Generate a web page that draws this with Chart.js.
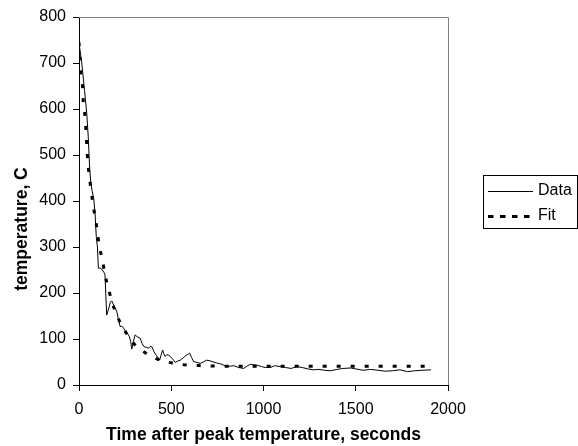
<!DOCTYPE html>
<html>
<head>
<meta charset="utf-8">
<script src="https://cdn.jsdelivr.net/npm/chart.js@4"></script>
<style>
  html, body { margin: 0; padding: 0; background: #fff; }
  #wrap { width: 578px; height: 446px; }
</style>
</head>
<body>
<div id="wrap"><canvas id="c" width="578" height="446"></canvas></div>
<script>
// ---- data ----
const dataTime = [0,15,30,42,50,58,64,72,80,87,94,100,105,115,123,135,141,150,160,170,177,190,205,215,223,232,241,250,259,266,273,280,286,295,304,315,331,342,353,365,377,386,395,407,418,428,437,445,453,460,467,476,485,495,504,513,522,535,549,562,576,588,600,610,621,640,658,675,690,705,721,745,766,785,803,820,839,865,893,910,929,948,966,990,1010,1038,1060,1090,1120,1150,1180,1210,1240,1270,1300,1330,1364,1400,1430,1473,1500,1540,1580,1620,1660,1700,1740,1781,1820,1860,1908];
const dataTemp = [744,700,640,591,540,470,440,420,405,373,320,300,254,254,252,245,239,152,165,180,183,172,160,140,127,128,124,118,113,110,105,95,78,95,109,105,102,90,83,82,80,84,83,72,65,60,54,65,76,68,62,66,65,62,58,54,49,52,54,58,63,66,69,60,51,49,47,50,54,53,51,48,46,43,40,41,42,38,36,41,45,44,43,40,38,38,42,40,38,36,40,38,35,33,34,32,31,34,36,37,35,32,34,32,30,31,33,29,31,32,33];
const fitTime = [0,5,11,20,23,33,38,42,47,54,64,74,100,109,127,141,159,177,208,241,299,364,440,518,594,670,800,1000,1200,1400,1600,1800,1908];
const fitTemp = [745,707,674,645,616,583,551,522,489,460,428,398,333,304,272,239,211,183,149,123,89,69,54,47,43,42,41,41,41,41,41,41,41];
const seriesNames = ['Data', 'Fit'];
const xMin = 0, xMax = 2000, xStep = 500;
const yMin = 0, yMax = 800, yStep = 100;
const xTitle = 'Time after peak temperature, seconds';
const yTitle = 'temperature, C';

const toPts = (xs, ys) => xs.map((x, i) => ({ x: x, y: ys[i] }));

const FONT = '"Liberation Sans", Arial, sans-serif';

const plotBorder = {
  id: 'plotBorder',
  beforeDatasetsDraw(chart) {
    const a = chart.chartArea, ctx = chart.ctx;
    ctx.save();
    ctx.strokeStyle = '#808080';
    ctx.lineWidth = 1;
    ctx.beginPath();
    ctx.moveTo(a.left, a.top + 0.5);
    ctx.lineTo(a.right + 0.5, a.top + 0.5);
    ctx.lineTo(a.right + 0.5, a.bottom);
    ctx.stroke();
    ctx.restore();
  }
};

// y-axis title, drawn a little below the plot's centre as in the reference
const yTitlePlugin = {
  id: 'yTitlePlugin',
  afterDraw(chart) {
    const a = chart.chartArea, ctx = chart.ctx;
    ctx.save();
    ctx.translate(22, (a.top + a.bottom) / 2 + 28);
    ctx.rotate(-Math.PI / 2);
    ctx.font = 'bold 17.5px ' + FONT;
    ctx.fillStyle = '#000';
    ctx.textAlign = 'center';
    ctx.textBaseline = 'middle';
    ctx.fillText(yTitle, 0, 0);
    ctx.restore();
  }
};

const boxLegend = {
  id: 'boxLegend',
  afterDraw(chart) {
    const a = chart.chartArea, ctx = chart.ctx;
    const left = a.right + 35, w = 94, h = 53;
    const top = Math.round((a.top + a.bottom) / 2 - h / 2);
    ctx.save();
    ctx.strokeStyle = '#000';
    ctx.lineWidth = 1;
    ctx.strokeRect(left + 0.5, top + 0.5, w, h);
    ctx.font = '16px ' + FONT;
    ctx.textBaseline = 'middle';
    ctx.fillStyle = '#000';
    chart.data.datasets.forEach((ds, i) => {
      const y = top + 16 + i * 25;
      ctx.beginPath();
      ctx.strokeStyle = ds.borderColor;
      ctx.lineWidth = ds.borderWidth;
      ctx.setLineDash(ds.borderDash ? [5.5, 6.5] : []);
      ctx.moveTo(left + 5, y + 0.5);
      ctx.lineTo(left + 50, y + 0.5);
      ctx.stroke();
      ctx.setLineDash([]);
      ctx.fillText(ds.label, left + 55, y);
    });
    ctx.restore();
  }
};

new Chart(document.getElementById('c'), {
  type: 'scatter',
  data: {
    datasets: [
      { label: seriesNames[0], data: toPts(dataTime, dataTemp), showLine: true,
        borderColor: '#000', borderWidth: 1, pointRadius: 0, tension: 0 },
      { label: seriesNames[1], data: toPts(fitTime, fitTemp), showLine: true,
        borderColor: '#000', borderWidth: 3, borderDash: [4, 10], pointRadius: 0,
        cubicInterpolationMode: 'monotone', borderCapStyle: 'butt' }
    ]
  },
  options: {
    responsive: false,
    animation: false,
    devicePixelRatio: 1,
    layout: { padding: { top: 17, right: 130, left: 0, bottom: 0 } },
    plugins: { legend: { display: false }, tooltip: { enabled: false } },
    scales: {
      x: {
        type: 'linear', min: xMin, max: xMax,
        afterFit(s) { s.height = 61; },
        ticks: { stepSize: xStep, color: '#000', font: { family: FONT, size: 16 }, padding: 9, maxRotation: 0,
                 callback: (v) => String(v) },
        grid: { drawOnChartArea: false, drawTicks: true, tickLength: 6, color: '#000' },
        border: { color: '#000', width: 1 },
        title: { display: true, text: xTitle, color: '#000', font: { family: FONT, size: 17.5, weight: 'bold' }, padding: { top: 0, bottom: 0 } }
      },
      y: {
        type: 'linear', min: yMin, max: yMax,
        afterFit(s) { s.width = 79; },
        ticks: { stepSize: yStep, color: '#000', font: { family: FONT, size: 16 }, padding: 7,
                 callback: (v) => String(v) },
        grid: { drawOnChartArea: false, drawTicks: true, tickLength: 6, color: '#000' },
        border: { color: '#000', width: 1 },
        title: { display: false }
      }
    }
  },
  plugins: [plotBorder, yTitlePlugin, boxLegend]
});
</script>
</body>
</html>
